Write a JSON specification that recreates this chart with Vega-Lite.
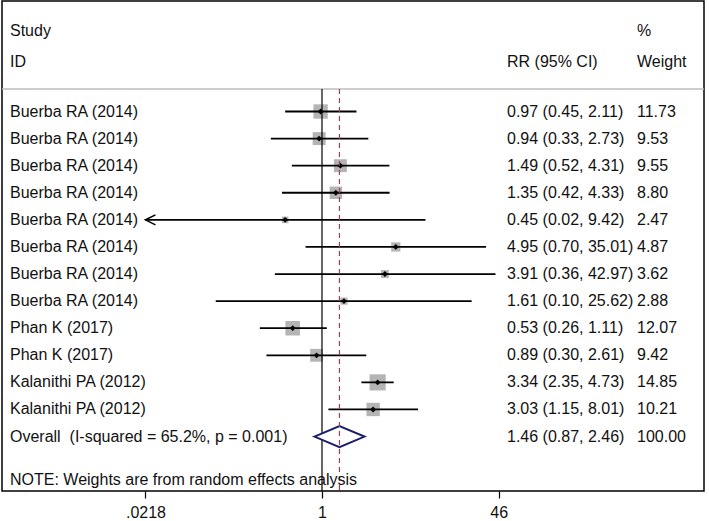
{
  "$schema": "https://vega.github.io/schema/vega-lite/v6.json",
  "width": 702,
  "height": 490,
  "autosize": {"type": "none"},
  "padding": {"left": 2, "top": 1, "right": 5, "bottom": 30},
  "background": "white",
  "config": {
    "view": {"stroke": "#000000", "strokeWidth": 1.5},
    "text": {"font": "Liberation Sans", "fontSize": 16, "color": "#111111", "baseline": "middle"}
  },
  "datasets": {
    "studies": [
      {"kind": "study", "row": 1, "study": "Buerba RA (2014)", "rr": 0.97, "lo": 0.45, "hi": 2.11, "lo_draw": 0.45, "arrow": false, "weight": 11.73, "ci": "0.97 (0.45, 2.11)", "w": "11.73"},
      {"kind": "study", "row": 2, "study": "Buerba RA (2014)", "rr": 0.94, "lo": 0.33, "hi": 2.73, "lo_draw": 0.33, "arrow": false, "weight": 9.53, "ci": "0.94 (0.33, 2.73)", "w": "9.53"},
      {"kind": "study", "row": 3, "study": "Buerba RA (2014)", "rr": 1.49, "lo": 0.52, "hi": 4.31, "lo_draw": 0.52, "arrow": false, "weight": 9.55, "ci": "1.49 (0.52, 4.31)", "w": "9.55"},
      {"kind": "study", "row": 4, "study": "Buerba RA (2014)", "rr": 1.35, "lo": 0.42, "hi": 4.33, "lo_draw": 0.42, "arrow": false, "weight": 8.80, "ci": "1.35 (0.42, 4.33)", "w": "8.80"},
      {"kind": "study", "row": 5, "study": "Buerba RA (2014)", "rr": 0.45, "lo": 0.02, "hi": 9.42, "lo_draw": 0.0218, "arrow": true, "weight": 2.47, "ci": "0.45 (0.02, 9.42)", "w": "2.47"},
      {"kind": "study", "row": 6, "study": "Buerba RA (2014)", "rr": 4.95, "lo": 0.70, "hi": 35.01, "lo_draw": 0.70, "arrow": false, "weight": 4.87, "ci": "4.95 (0.70, 35.01)", "w": "4.87"},
      {"kind": "study", "row": 7, "study": "Buerba RA (2014)", "rr": 3.91, "lo": 0.36, "hi": 42.97, "lo_draw": 0.36, "arrow": false, "weight": 3.62, "ci": "3.91 (0.36, 42.97)", "w": "3.62"},
      {"kind": "study", "row": 8, "study": "Buerba RA (2014)", "rr": 1.61, "lo": 0.10, "hi": 25.62, "lo_draw": 0.10, "arrow": false, "weight": 2.88, "ci": "1.61 (0.10, 25.62)", "w": "2.88"},
      {"kind": "study", "row": 9, "study": "Phan K (2017)", "rr": 0.53, "lo": 0.26, "hi": 1.11, "lo_draw": 0.26, "arrow": false, "weight": 12.07, "ci": "0.53 (0.26, 1.11)", "w": "12.07"},
      {"kind": "study", "row": 10, "study": "Phan K (2017)", "rr": 0.89, "lo": 0.30, "hi": 2.61, "lo_draw": 0.30, "arrow": false, "weight": 9.42, "ci": "0.89 (0.30, 2.61)", "w": "9.42"},
      {"kind": "study", "row": 11, "study": "Kalanithi PA (2012)", "rr": 3.34, "lo": 2.35, "hi": 4.73, "lo_draw": 2.35, "arrow": false, "weight": 14.85, "ci": "3.34 (2.35, 4.73)", "w": "14.85"},
      {"kind": "study", "row": 12, "study": "Kalanithi PA (2012)", "rr": 3.03, "lo": 1.15, "hi": 8.01, "lo_draw": 1.15, "arrow": false, "weight": 10.21, "ci": "3.03 (1.15, 8.01)", "w": "10.21"},
      {"kind": "overall", "row": 13, "study": "Overall\u00a0 (I-squared = 65.2%, p = 0.001)", "rr": 1.46, "lo": 0.87, "hi": 2.46, "lo_draw": 0.87, "arrow": false, "weight": 100.0, "ci": "1.46 (0.87, 2.46)", "w": "100.00"}
    ],
    "one": [{"a": 0}]
  },
  "layer": [
    {
      "data": {"name": "studies"},
      "transform": [{"filter": "datum.kind === 'study'"}],
      "mark": {"type": "point", "shape": "square", "filled": true, "color": "#b4b4b4", "opacity": 1},
      "encoding": {
        "x": {
          "field": "rr", "type": "quantitative",
          "scale": {"type": "log", "domain": [0.000973, 3941], "nice": false},
          "axis": {
            "values": [0.0218, 1, 46],
            "labelExpr": "datum.value < 0.1 ? '.0218' : format(datum.value, 'd')",
            "domain": false, "grid": false, "ticks": true, "tickSize": 7, "tickColor": "#000000", "tickWidth": 1.2,
            "labelFont": "Liberation Sans", "labelFontSize": 16, "labelColor": "#111111", "labelPadding": 6,
            "labelFlush": false, "labelOverlap": false, "title": null
          }
        },
        "y": {"field": "row", "type": "quantitative", "scale": {"domain": [-3.08, 15.01], "reverse": true, "nice": false, "zero": false}, "axis": null},
        "size": {"field": "weight", "type": "quantitative", "scale": {"domain": [0, 14.85], "range": [0, 260], "zero": true}, "legend": null}
      }
    },
    {
      "data": {"name": "one"},
      "mark": {"type": "rect", "fill": "#bdbdbd", "opacity": 1},
      "encoding": {
        "x": {"datum": 0.000973, "type": "quantitative"},
        "x2": {"datum": 3941},
        "y": {"datum": 0.142, "type": "quantitative"},
        "y2": {"datum": 0.197}
      }
    },
    {
      "data": {"name": "one"},
      "mark": {"type": "rule", "color": "#000000", "strokeWidth": 1.2},
      "encoding": {
        "x": {"datum": 1, "type": "quantitative"},
        "y": {"datum": 0.169, "type": "quantitative"},
        "y2": {"datum": 15.01}
      }
    },
    {
      "data": {"name": "studies"},
      "transform": [{"filter": "datum.kind === 'study'"}],
      "mark": {"type": "rule", "color": "#000000", "strokeWidth": 1.8},
      "encoding": {
        "x": {"field": "lo_draw", "type": "quantitative"},
        "x2": {"field": "hi"},
        "y": {"field": "row", "type": "quantitative"}
      }
    },
    {
      "data": {"name": "studies"},
      "transform": [{"filter": "datum.arrow"}],
      "mark": {"type": "point", "shape": "M2,-1L0,0L2,1", "filled": false, "stroke": "#000000", "strokeWidth": 1.6, "size": 100, "opacity": 1},
      "encoding": {
        "x": {"field": "lo_draw", "type": "quantitative"},
        "y": {"field": "row", "type": "quantitative"}
      }
    },
    {
      "data": {"name": "studies"},
      "transform": [{"filter": "datum.kind === 'study'"}],
      "mark": {"type": "point", "shape": "diamond", "filled": true, "color": "#000000", "size": 34, "opacity": 1},
      "encoding": {
        "x": {"field": "rr", "type": "quantitative"},
        "y": {"field": "row", "type": "quantitative"}
      }
    },
    {
      "data": {"name": "studies"},
      "transform": [{"filter": "datum.kind === 'overall'"}],
      "mark": {"type": "point", "shape": "M-1,0L0,-0.42L1,0L0,0.42Z", "filled": true, "fill": "#ffffff", "stroke": "#1b1f6b", "strokeWidth": 2, "size": 2500, "opacity": 1, "fillOpacity": 1},
      "encoding": {
        "x": {"field": "rr", "type": "quantitative"},
        "y": {"field": "row", "type": "quantitative"}
      }
    },
    {
      "data": {"name": "studies"},
      "transform": [{"filter": "datum.kind === 'overall'"}],
      "mark": {"type": "rule", "color": "#a0404f", "strokeWidth": 1.2, "strokeDash": [5, 4]},
      "encoding": {
        "x": {"field": "rr", "type": "quantitative"},
        "y": {"datum": 0.169, "type": "quantitative"},
        "y2": {"datum": 15.01}
      }
    },
    {
      "data": {"name": "studies"},
      "mark": {"type": "text", "align": "left"},
      "encoding": {
        "x": {"datum": 0.001157, "type": "quantitative"},
        "y": {"field": "row", "type": "quantitative"},
        "text": {"field": "study"}
      }
    },
    {
      "data": {"name": "studies"},
      "mark": {"type": "text", "align": "left"},
      "encoding": {
        "x": {"datum": 55.12, "type": "quantitative"},
        "y": {"field": "row", "type": "quantitative"},
        "text": {"field": "ci"}
      }
    },
    {
      "data": {"name": "studies"},
      "mark": {"type": "text", "align": "left"},
      "encoding": {
        "x": {"datum": 922.5, "type": "quantitative"},
        "y": {"field": "row", "type": "quantitative"},
        "text": {"field": "w"}
      }
    },
    {
      "data": {"name": "one"},
      "mark": {"type": "text", "align": "left"},
      "encoding": {
        "x": {"datum": 0.001157, "type": "quantitative"},
        "y": {"datum": -1.954, "type": "quantitative"},
        "text": {"value": "Study"}
      }
    },
    {
      "data": {"name": "one"},
      "mark": {"type": "text", "align": "left"},
      "encoding": {
        "x": {"datum": 0.001157, "type": "quantitative"},
        "y": {"datum": -0.828, "type": "quantitative"},
        "text": {"value": "ID"}
      }
    },
    {
      "data": {"name": "one"},
      "mark": {"type": "text", "align": "left"},
      "encoding": {
        "x": {"datum": 55.12, "type": "quantitative"},
        "y": {"datum": -0.828, "type": "quantitative"},
        "text": {"value": "RR (95% CI)"}
      }
    },
    {
      "data": {"name": "one"},
      "mark": {"type": "text", "align": "left"},
      "encoding": {
        "x": {"datum": 922.5, "type": "quantitative"},
        "y": {"datum": -1.954, "type": "quantitative"},
        "text": {"value": "%"}
      }
    },
    {
      "data": {"name": "one"},
      "mark": {"type": "text", "align": "left"},
      "encoding": {
        "x": {"datum": 922.5, "type": "quantitative"},
        "y": {"datum": -0.828, "type": "quantitative"},
        "text": {"value": "Weight"}
      }
    },
    {
      "data": {"name": "one"},
      "mark": {"type": "text", "align": "left"},
      "encoding": {
        "x": {"datum": 0.001157, "type": "quantitative"},
        "y": {"datum": 14.6, "type": "quantitative"},
        "text": {"value": "NOTE: Weights are from random effects analysis"}
      }
    }
  ]
}
